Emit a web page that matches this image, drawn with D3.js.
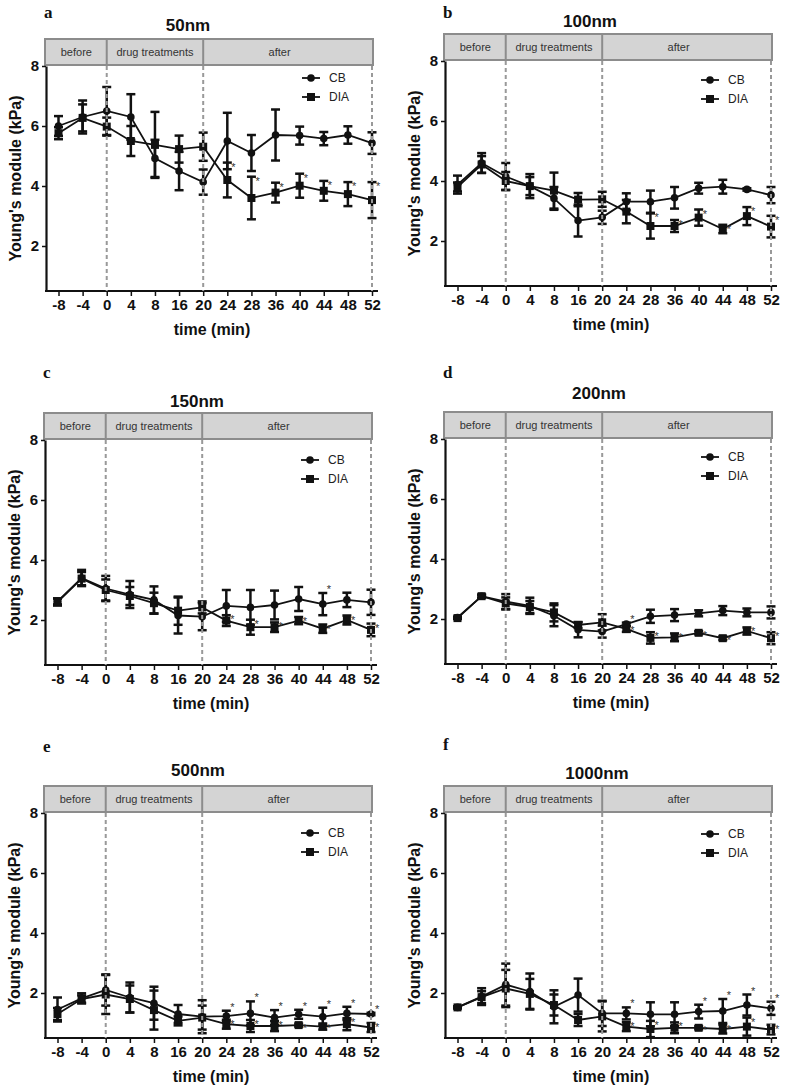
<!DOCTYPE html>
<html>
<head>
<meta charset="utf-8">
<script src="https://cdnjs.cloudflare.com/ajax/libs/d3/7.8.5/d3.min.js"></script>
<style>
body { margin: 0; background: #fff; }
svg { display: block; }
</style>
</head>
<body>
<svg id="fig" width="787" height="1088"></svg>
<script>
// shared categories / labels
const times = ["-8", "-4", "0", "4", "8", "16", "20", "24", "28", "36", "40", "44", "48", "52"];
const yTicks = [2, 4, 6, 8];
const phases = ["before", "drug treatments", "after"];
const phaseEdges = ["0", "20", "52"];
const seriesNames = ["CB", "DIA"];

// a: 50nm
const cb50 = [6.0, 6.3, 6.5, 6.3, 4.92, 4.5, 4.13, 5.5, 5.1, 5.7, 5.68, 5.58, 5.7, 5.43];
const cb50Sd = [0.33, 0.55, 0.8, 0.76, 0.62, 0.64, 0.42, 0.94, 0.6, 0.85, 0.3, 0.22, 0.29, 0.36];
const dia50 = [5.76, 6.27, 5.98, 5.5, 5.37, 5.23, 5.31, 4.2, 3.6, 3.78, 4.01, 3.84, 3.73, 3.53];
const dia50Sd = [0.2, 0.45, 0.3, 0.5, 1.1, 0.45, 0.47, 0.58, 0.71, 0.33, 0.4, 0.33, 0.4, 0.6];
const cb50Star = [];
const dia50Star = ["24", "28", "36", "40", "44", "48", "52"];

// b: 100nm
const cb100 = [3.88, 4.6, 4.15, 3.83, 3.42, 2.68, 2.79, 3.31, 3.31, 3.44, 3.76, 3.81, 3.72, 3.53];
const cb100Sd = [0.3, 0.33, 0.45, 0.4, 0.38, 0.53, 0.22, 0.28, 0.37, 0.36, 0.18, 0.23, 0.04, 0.27];
const dia100 = [3.8, 4.55, 4.0, 3.83, 3.68, 3.38, 3.39, 2.98, 2.5, 2.5, 2.78, 2.4, 2.83, 2.48];
const dia100Sd = [0.15, 0.28, 0.3, 0.3, 0.6, 0.22, 0.25, 0.39, 0.42, 0.2, 0.27, 0.14, 0.3, 0.36];
const cb100Star = [];
const dia100Star = ["28", "36", "40", "44", "48", "52"];

// c: 150nm
const cb150 = [2.62, 3.4, 3.05, 2.85, 2.67, 2.15, 2.11, 2.47, 2.42, 2.5, 2.7, 2.53, 2.67, 2.59];
const cb150Sd = [0.1, 0.27, 0.42, 0.45, 0.45, 0.6, 0.45, 0.53, 0.58, 0.48, 0.4, 0.37, 0.24, 0.42];
const dia150 = [2.6, 3.38, 3.0, 2.8, 2.56, 2.31, 2.42, 1.98, 1.76, 1.76, 1.98, 1.71, 2.0, 1.67];
const dia150Sd = [0.12, 0.22, 0.35, 0.3, 0.35, 0.47, 0.2, 0.18, 0.25, 0.16, 0.12, 0.14, 0.15, 0.21];
const cb150Star = ["44"];
const dia150Star = ["24", "28", "36", "40", "44", "48", "52"];

// d: 200nm
const cb200 = [2.05, 2.76, 2.58, 2.44, 2.11, 1.64, 1.58, 1.83, 2.09, 2.13, 2.19, 2.28, 2.22, 2.22];
const cb200Sd = [0.03, 0.05, 0.25, 0.27, 0.35, 0.25, 0.2, 0.05, 0.22, 0.2, 0.1, 0.15, 0.13, 0.2];
const dia200 = [2.03, 2.76, 2.52, 2.4, 2.22, 1.8, 1.89, 1.67, 1.37, 1.39, 1.54, 1.36, 1.6, 1.36];
const dia200Sd = [0.03, 0.05, 0.2, 0.2, 0.3, 0.1, 0.27, 0.1, 0.19, 0.13, 0.05, 0.06, 0.12, 0.2];
const cb200Star = ["24"];
const dia200Star = ["24", "28", "36", "40", "44", "48", "52"];

// e: 500nm
const cb500 = [1.45, 1.82, 2.1, 1.85, 1.66, 1.3, 1.21, 1.23, 1.32, 1.18, 1.29, 1.21, 1.32, 1.3];
const cb500Sd = [0.4, 0.17, 0.52, 0.5, 0.55, 0.3, 0.55, 0.18, 0.4, 0.25, 0.15, 0.3, 0.22, 0.04];
const dia500 = [1.3, 1.8, 1.95, 1.8, 1.43, 1.07, 1.18, 0.96, 0.9, 0.9, 0.93, 0.88, 0.96, 0.85];
const dia500Sd = [0.2, 0.12, 0.65, 0.45, 0.65, 0.15, 0.4, 0.15, 0.2, 0.17, 0.05, 0.1, 0.2, 0.15];
const cb500Star = ["24", "28", "36", "40", "44", "48", "52"];
const dia500Star = ["24", "28", "36", "40", "44", "48", "52"];

// f: 1000nm
const cb1000 = [1.52, 1.88, 2.28, 2.05, 1.54, 1.93, 1.32, 1.32, 1.29, 1.29, 1.38, 1.4, 1.6, 1.49];
const cb1000Sd = [0.03, 0.28, 0.7, 0.6, 0.55, 0.55, 0.42, 0.2, 0.4, 0.4, 0.23, 0.4, 0.35, 0.22];
const dia1000 = [1.52, 1.86, 2.15, 1.97, 1.6, 1.1, 1.22, 0.88, 0.8, 0.84, 0.84, 0.8, 0.88, 0.78];
const dia1000Sd = [0.03, 0.2, 0.62, 0.5, 0.35, 0.2, 0.5, 0.15, 0.27, 0.18, 0.05, 0.15, 0.3, 0.16];
const cb1000Star = ["24", "40", "44", "48", "52"];
const dia1000Star = ["24", "28", "36", "40", "44", "48", "52"];

// panel placement (ox = y-axis x, top = y of the value 8)
const panels = [
  {letter: "a", title: "50nm", ox: 46, top: 66, tdx: 142, tdy: -35, ldy: -48, gdy: 12,
   cb: cb50, cbSd: cb50Sd, dia: dia50, diaSd: dia50Sd, cbStar: cb50Star, diaStar: dia50Star},
  {letter: "b", title: "100nm", ox: 445, top: 61, tdx: 145, tdy: -34, ldy: -43, gdy: 19,
   cb: cb100, cbSd: cb100Sd, dia: dia100, diaSd: dia100Sd, cbStar: cb100Star, diaStar: dia100Star},
  {letter: "c", title: "150nm", ox: 45, top: 440, tdx: 152, tdy: -33, ldy: -62, gdy: 20,
   cb: cb150, cbSd: cb150Sd, dia: dia150, diaSd: dia150Sd, cbStar: cb150Star, diaStar: dia150Star},
  {letter: "d", title: "200nm", ox: 445, top: 439, tdx: 154, tdy: -40, ldy: -61, gdy: 18,
   cb: cb200, cbSd: cb200Sd, dia: dia200, diaSd: dia200Sd, cbStar: cb200Star, diaStar: dia200Star},
  {letter: "e", title: "500nm", ox: 45, top: 813, tdx: 153, tdy: -37, ldy: -61, gdy: 20,
   cb: cb500, cbSd: cb500Sd, dia: dia500, diaSd: dia500Sd, cbStar: cb500Star, diaStar: dia500Star},
  {letter: "f", title: "1000nm", ox: 445, top: 813, tdx: 152, tdy: -34, ldy: -63, gdy: 21,
   cb: cb1000, cbSd: cb1000Sd, dia: dia1000, diaSd: dia1000Sd, cbStar: cb1000Star, diaStar: dia1000Star}
];

const ink = "#111";
const sans = "'Liberation Sans', Arial, sans-serif";
const svg = d3.select("#fig");

function drawMarker(sel, shape, cx, cy) {
  if (shape === "CB") {
    sel.append("circle").attr("cx", cx).attr("cy", cy).attr("r", 3.8).attr("fill", ink);
  } else {
    sel.append("rect").attr("x", cx - 4).attr("y", cy - 4)
      .attr("width", 8).attr("height", 8).attr("fill", ink);
  }
}

panels.forEach(p => {
  const g = svg.append("g");
  const x = d3.scalePoint().domain(times).range([p.ox + 12.5, p.ox + 326]);
  const y = d3.scaleLinear().domain([0.5, 8]).range([p.top + 225, p.top]);
  const bottom = y(0.5);

  // panel letter and title
  g.append("text").attr("x", p.ox - 2).attr("y", p.top + p.ldy)
    .attr("font-family", "'Liberation Serif', 'Times New Roman', serif")
    .attr("font-weight", "bold").attr("font-size", 17).attr("fill", ink)
    .text(p.letter);
  g.append("text").attr("x", p.ox + p.tdx).attr("y", p.top + p.tdy)
    .attr("text-anchor", "middle").attr("font-family", sans)
    .attr("font-weight", "bold").attr("font-size", 17).attr("fill", ink)
    .text(p.title);

  // phase header band
  const bandTop = p.top - 27;
  const bandRight = x("52") + 1;
  g.append("rect").attr("x", p.ox - 1).attr("y", bandTop)
    .attr("width", bandRight - p.ox + 1).attr("height", 26)
    .attr("fill", "#d4d4d4").attr("stroke", "#8c8c8c").attr("stroke-width", 2);
  ["0", "20"].forEach(t => {
    g.append("line").attr("x1", x(t)).attr("x2", x(t))
      .attr("y1", bandTop).attr("y2", bandTop + 26)
      .attr("stroke", "#8c8c8c").attr("stroke-width", 2);
  });
  const phaseCenters = [(p.ox + x("0")) / 2, (x("0") + x("20")) / 2, (x("20") + x("52")) / 2 - 8];
  phases.forEach((name, i) => {
    g.append("text").attr("x", phaseCenters[i]).attr("y", bandTop + 17)
      .attr("text-anchor", "middle").attr("font-family", sans)
      .attr("font-size", 11).attr("fill", "#333").text(name);
  });

  // axes
  const yAxis = g.append("g").attr("transform", `translate(${p.ox},0)`)
    .call(d3.axisLeft(y).tickValues(yTicks).tickSize(4).tickSizeOuter(0).tickFormat(d3.format("d")));
  yAxis.select(".domain").attr("stroke", ink).attr("stroke-width", 2.2);
  yAxis.selectAll(".tick line").attr("stroke", ink).attr("stroke-width", 1.5);
  yAxis.selectAll(".tick text").attr("font-family", sans).attr("font-weight", "bold")
    .attr("font-size", 15).attr("fill", ink);

  const xAxis = g.append("g").attr("transform", `translate(0,${bottom})`)
    .call(d3.axisBottom(x).tickSize(5).tickSizeOuter(0));
  xAxis.select(".domain").remove();
  xAxis.append("line").attr("x1", p.ox - 1).attr("x2", p.ox + 332)
    .attr("stroke", ink).attr("stroke-width", 2.2);
  xAxis.selectAll(".tick line").attr("stroke", ink).attr("stroke-width", 1.5);
  xAxis.selectAll(".tick text").attr("font-family", sans).attr("font-weight", "bold")
    .attr("font-size", 15).attr("fill", ink);

  g.append("text").attr("x", p.ox + 166).attr("y", bottom + 44)
    .attr("text-anchor", "middle").attr("font-family", sans)
    .attr("font-weight", "bold").attr("font-size", 16).attr("fill", ink)
    .text("time (min)");
  g.append("text")
    .attr("transform", `translate(${p.ox - 31},${p.top + 112.5}) rotate(-90)`)
    .attr("text-anchor", "middle").attr("dominant-baseline", "central")
    .attr("font-family", sans).attr("font-weight", "bold").attr("font-size", 16)
    .attr("fill", ink).text("Young's module (kPa)");

  // series
  const series = [
    {name: "DIA", vals: p.dia, sd: p.diaSd, stars: p.diaStar, starDy: 8},
    {name: "CB", vals: p.cb, sd: p.cbSd, stars: p.cbStar, starDy: 0}
  ];
  const line = d3.line().x(d => x(d.t)).y(d => y(d.v));

  series.forEach(s => {
    const pts = times.map((t, i) => ({t: t, v: s.vals[i], e: s.sd[i]}));
    const eb = g.append("g").attr("stroke", ink).attr("stroke-width", 2.5);
    pts.forEach(d => {
      const cx = x(d.t), y1 = y(d.v + d.e), y2 = y(d.v - d.e);
      eb.append("line").attr("x1", cx).attr("x2", cx).attr("y1", y1).attr("y2", y2);
      eb.append("line").attr("x1", cx - 4.5).attr("x2", cx + 4.5).attr("y1", y1).attr("y2", y1);
      eb.append("line").attr("x1", cx - 4.5).attr("x2", cx + 4.5).attr("y1", y2).attr("y2", y2);
    });
    s.pts = pts;
  });
  series.forEach(s => {
    g.append("path").attr("d", line(s.pts)).attr("fill", "none")
      .attr("stroke", ink).attr("stroke-width", 1.8);
  });
  series.forEach(s => {
    s.pts.forEach(d => drawMarker(g, s.name, x(d.t), y(d.v)));
  });

  // dashed phase boundaries (on top of data)
  phaseEdges.forEach(t => {
    g.append("line").attr("x1", x(t)).attr("x2", x(t))
      .attr("y1", p.top).attr("y2", bottom)
      .attr("stroke", "#999").attr("stroke-width", 2).attr("stroke-dasharray", "4,3");
  });

  // significance marks
  series.forEach(s => {
    s.pts.filter(d => s.stars.includes(d.t)).forEach(d => {
      g.append("text").attr("x", x(d.t) + 4).attr("y", y(d.v + d.e) + s.starDy)
        .attr("font-family", sans).attr("font-size", 11).attr("fill", "#333").text("*");
    });
  });

  // legend
  seriesNames.forEach((name, i) => {
    const ly = p.top + p.gdy + i * 19;
    g.append("line").attr("x1", p.ox + 256).attr("x2", p.ox + 274)
      .attr("y1", ly).attr("y2", ly).attr("stroke", ink).attr("stroke-width", 1.8);
    drawMarker(g, name, p.ox + 265, ly);
    g.append("text").attr("x", p.ox + 283).attr("y", ly)
      .attr("dominant-baseline", "central").attr("font-family", sans)
      .attr("font-size", 12).attr("fill", "#222").text(name);
  });
});
</script>
</body>
</html>
